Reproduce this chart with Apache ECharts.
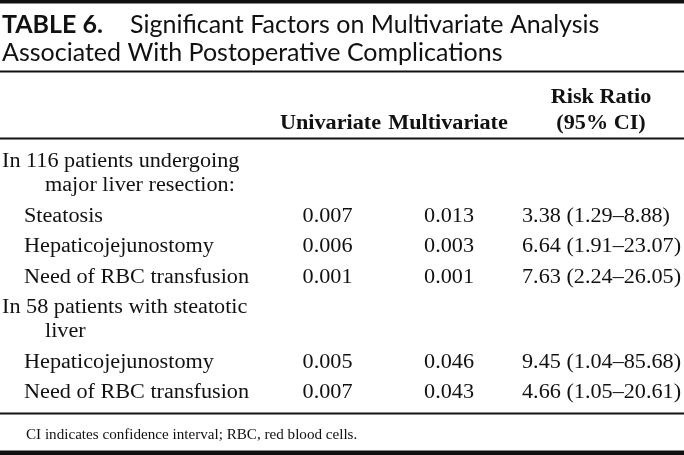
<!DOCTYPE html>
<html>
<head>
<meta charset="utf-8">
<script src="https://cdn.jsdelivr.net/npm/echarts@6/dist/echarts.min.js"></script>
<style>
html,body{margin:0;padding:0;background:#fff;}
#main{width:684px;height:455px;}
</style>
</head>
<body>
<div id="main"></div>
<script>
// ---- data ----
var titleLabel = "TABLE 6.";
var titleLine1 = "Significant Factors on Multivariate Analysis";
var titleLine2 = "Associated With Postoperative Complications";
var headerUni = "Univariate";
var headerMulti = "Multivariate";
var headerRR = ["Risk Ratio", "(95% CI)"];
var rowLabels = [
  ["In 116 patients undergoing", "major liver resection:"],
  ["Steatosis"],
  ["Hepaticojejunostomy"],
  ["Need of RBC transfusion"],
  ["In 58 patients with steatotic", "liver"],
  ["Hepaticojejunostomy"],
  ["Need of RBC transfusion"]
];
var rowIsGroup = [true, false, false, false, true, false, false];
var univariate = [null, 0.007, 0.006, 0.001, null, 0.005, 0.007];
var multivariate = [null, 0.013, 0.003, 0.001, null, 0.046, 0.043];
var riskRatio = [null, 3.38, 6.64, 7.63, null, 9.45, 4.66];
var ciLow = [null, 1.29, 1.91, 2.24, null, 1.04, 1.05];
var ciHigh = [null, 8.88, 23.07, 26.05, null, 85.68, 20.61];
var footnote = "CI indicates confidence interval; RBC, red blood cells.";

// ---- layout ----
var W = 684, H = 455;
var SERIF = '"Liberation Serif", "Times New Roman", serif';
var SANS = 'Lato, "Open Sans", sans-serif';
var SX = 1.11;           // horizontal stretch of the body face
var BODY = 20;
var COL = {label: 2, sub: 24, cont: 45, uni: 327.5, multi: 449, rr: 522, rrHead: 601};
var firstBase = 166, wrapStep = 24, rowStep = 30.5;
var MID = 4; // baseline -> middle offset

var cells = [];
function add(x, base, text, opt) {
  opt = opt || {};
  cells.push({x: x, y: base - (opt.mid || MID), text: text, align: opt.align || 'left',
    bold: !!opt.bold, size: opt.size || BODY, sx: opt.sx || SX});
}
// headers
add(COL.rrHead, 102, headerRR[0], {align: 'center', bold: true});
add(COL.rrHead, 128, headerRR[1], {align: 'center', bold: true});
add(COL.uni + 3, 128, headerUni, {align: 'center', bold: true});
add(COL.multi - 1, 128, headerMulti, {align: 'center', bold: true});
// body
var base = firstBase;
for (var i = 0; i < rowLabels.length; i++) {
  var lines = rowLabels[i];
  if (rowIsGroup[i]) {
    add(COL.label, base, lines[0]);
    for (var k = 1; k < lines.length; k++) { base += wrapStep; add(COL.cont, base, lines[k]); }
  } else {
    add(COL.sub, base, lines[0]);
    if (univariate[i] != null) add(COL.uni, base, univariate[i].toFixed(3), {align: 'center'});
    if (multivariate[i] != null) add(COL.multi, base, multivariate[i].toFixed(3), {align: 'center'});
    if (riskRatio[i] != null) add(COL.rr, base, riskRatio[i].toFixed(2) + ' (' + ciLow[i].toFixed(2) + '\u2013' + ciHigh[i].toFixed(2) + ')');
  }
  base += rowStep;
}

var chart = echarts.init(document.getElementById('main'), null, {renderer: 'canvas'});
var ink = '#111';
function rule(y, h) {
  return {type: 'rect', shape: {x: 0, y: y, width: W, height: h}, style: {fill: ink}, silent: true};
}
chart.setOption({
  backgroundColor: '#fff',
  animation: false,
  grid: {left: 0, right: 0, top: 0, bottom: 0},
  xAxis: {type: 'value', min: 0, max: W, show: false},
  yAxis: {type: 'value', min: 0, max: H, inverse: true, show: false},
  graphic: [
    rule(0, 3.5),
    rule(70.5, 2),
    rule(137.5, 2),
    rule(412.5, 2),
    rule(450.5, 4.5),
    {type: 'text', x: 2, y: 37, style: {text: titleLabel, font: 'bold 25px ' + SANS, fill: ink, verticalAlign: 'bottom'}},
    {type: 'text', x: 130, y: 37, style: {text: titleLine1, font: '25px ' + SANS, fill: ink, verticalAlign: 'bottom'}},
    {type: 'text', x: 2, y: 65, style: {text: titleLine2, font: '25px ' + SANS, fill: ink, verticalAlign: 'bottom'}},
    {type: 'text', x: 26, y: 435, scaleX: 1.08, style: {text: footnote, font: '14px ' + SERIF, fill: ink, verticalAlign: 'middle'}}
  ],
  series: [{
    type: 'custom',
    coordinateSystem: 'cartesian2d',
    data: cells.map(function (c, i) { return [c.x, c.y, i]; }),
    renderItem: function (params, api) {
      var c = cells[api.value(2)];
      var p = api.coord([api.value(0), api.value(1)]);
      return {
        type: 'text',
        x: p[0], y: p[1], scaleX: c.sx,
        style: {
          text: c.text,
          font: (c.bold ? 'bold ' : '') + c.size + 'px ' + SERIF,
          fill: ink,
          align: c.align,
          verticalAlign: 'middle'
        },
        silent: true
      };
    }
  }]
});
</script>
</body>
</html>
